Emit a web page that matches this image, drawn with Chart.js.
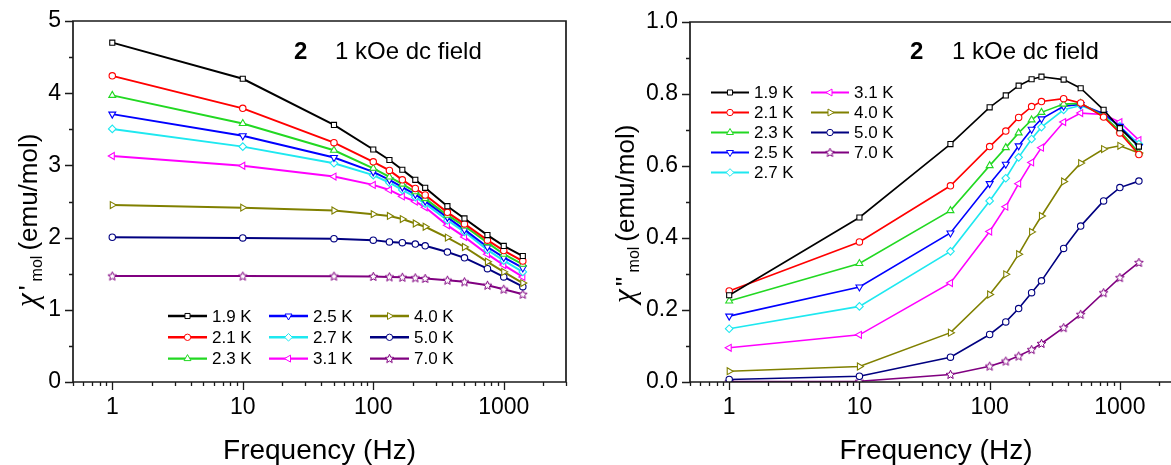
<!DOCTYPE html>
<html>
<head>
<meta charset="utf-8">
<script src="https://cdn.jsdelivr.net/npm/chart.js@4.4.1/dist/chart.umd.min.js"></script>
<style>
  body { margin:0; width:1171px; height:465px; overflow:hidden; position:relative; background:#fff; }
  #c1 { position:absolute; left:0; top:0; }
  #c2 { position:absolute; left:580px; top:0; }
</style>
</head>
<body>
<canvas id="c1" width="580" height="465"></canvas>
<canvas id="c2" width="620" height="465"></canvas>
<script>
// frequencies (Hz)
var freq = [1, 10, 50, 100, 133, 167, 210, 250, 370, 500, 750, 1000, 1400];
var temps = ['1.9 K', '2.1 K', '2.3 K', '2.5 K', '2.7 K', '3.1 K', '4.0 K', '5.0 K', '7.0 K'];

// chi' (emu/mol)
var re19 = [4.70, 4.20, 3.56, 3.22, 3.075, 2.94, 2.80, 2.69, 2.435, 2.265, 2.035, 1.885, 1.745];
var re21 = [4.24, 3.79, 3.315, 3.05, 2.93, 2.80, 2.68, 2.59, 2.35, 2.19, 1.965, 1.82, 1.675];
var re23 = [3.97, 3.58, 3.21, 2.96, 2.84, 2.74, 2.635, 2.54, 2.31, 2.16, 1.93, 1.77, 1.63];
var re25 = [3.71, 3.41, 3.11, 2.91, 2.80, 2.70, 2.60, 2.505, 2.28, 2.11, 1.87, 1.725, 1.58];
var re27 = [3.505, 3.26, 3.03, 2.865, 2.76, 2.66, 2.56, 2.47, 2.24, 2.08, 1.83, 1.68, 1.525];
var re31 = [3.13, 2.995, 2.845, 2.73, 2.66, 2.57, 2.50, 2.42, 2.17, 2.01, 1.77, 1.62, 1.455];
var re40 = [2.45, 2.415, 2.375, 2.325, 2.30, 2.257, 2.195, 2.15, 2.00, 1.87, 1.665, 1.525, 1.37];
var re50 = [2.005, 1.995, 1.985, 1.965, 1.94, 1.93, 1.91, 1.886, 1.80, 1.72, 1.57, 1.455, 1.32];
var re70 = [1.468, 1.467, 1.466, 1.462, 1.456, 1.45, 1.443, 1.434, 1.41, 1.387, 1.34, 1.285, 1.215];

// chi'' (emu/mol)
var im19 = [0.241, 0.457, 0.661, 0.763, 0.796, 0.823, 0.841, 0.848, 0.840, 0.816, 0.756, 0.705, 0.654];
var im21 = [0.253, 0.389, 0.545, 0.654, 0.697, 0.735, 0.765, 0.779, 0.787, 0.775, 0.736, 0.692, 0.632];
var im23 = [0.225, 0.329, 0.476, 0.601, 0.651, 0.692, 0.728, 0.749, 0.772, 0.774, 0.739, 0.698, 0.637];
var im25 = [0.183, 0.264, 0.414, 0.551, 0.605, 0.656, 0.702, 0.731, 0.766, 0.771, 0.745, 0.71, 0.654];
var im27 = [0.148, 0.21, 0.363, 0.503, 0.566, 0.624, 0.675, 0.708, 0.756, 0.768, 0.743, 0.71, 0.661];
var im31 = [0.095, 0.131, 0.275, 0.418, 0.487, 0.551, 0.61, 0.651, 0.722, 0.747, 0.743, 0.722, 0.672];
var im40 = [0.030, 0.043, 0.137, 0.243, 0.299, 0.355, 0.417, 0.461, 0.557, 0.608, 0.647, 0.656, 0.636];
var im50 = [0.007, 0.016, 0.069, 0.132, 0.167, 0.204, 0.248, 0.281, 0.371, 0.433, 0.503, 0.540, 0.558];
var im70 = [0.001, 0.002, 0.021, 0.044, 0.058, 0.072, 0.090, 0.107, 0.151, 0.188, 0.248, 0.290, 0.332];

var SANS = '"Liberation Sans", Arial, sans-serif';
Chart.defaults.font.family = SANS;
Chart.defaults.color = '#000';

function starImg(color) {
  var c = document.createElement('canvas');
  c.width = 11; c.height = 11;
  var g = c.getContext('2d');
  g.strokeStyle = color; g.lineWidth = 1; g.fillStyle = '#fff';
  g.beginPath();
  for (var i = 0; i < 10; i++) {
    var r = i % 2 ? 2.1 : 4.6;
    var a = -Math.PI / 2 + i * Math.PI / 5;
    g.lineTo(5.5 + r * Math.cos(a), 5.8 + r * Math.sin(a));
  }
  g.closePath(); g.fill(); g.stroke();
  return c;
}
var purpleStar = starImg('#800080');

// marker / colour per temperature
var looks = [
  {color: '#000000', shape: 'rect', rot: 0, r: 3.6},
  {color: '#ff0000', shape: 'circle', rot: 0, r: 3.2},
  {color: '#22d822', shape: 'triangle', rot: 0, r: 4},
  {color: '#0000ff', shape: 'triangle', rot: 180, r: 4},
  {color: '#1ee8f0', shape: 'rectRot', rot: 0, r: 3.8},
  {color: '#ff00ff', shape: 'triangle', rot: -90, r: 4},
  {color: '#808000', shape: 'triangle', rot: 90, r: 4},
  {color: '#000080', shape: 'circle', rot: 0, r: 3.2},
  {color: '#800080', shape: purpleStar, rot: 0, r: 4}
];

function makeSets(series, lw) {
  return series.map(function (vals, i) {
    var lk = looks[i];
    return {
      label: temps[i],
      data: freq.map(function (f, k) { return {x: f, y: vals[k]}; }),
      borderColor: lk.color,
      backgroundColor: lk.color,
      borderWidth: lw,
      pointStyle: lk.shape,
      pointRotation: lk.rot,
      pointRadius: lk.r,
      pointBorderWidth: 1.1,
      pointBackgroundColor: '#fff',
      pointBorderColor: lk.color,
      tension: 0
    };
  });
}

function logTicks(scale) {
  var t = [];
  [0.1, 1, 10, 100, 1000].forEach(function (d) {
    for (var j = 1; j <= 9; j++) {
      var v = +(j * d).toPrecision(3);
      if (v >= scale.min - 1e-9 && v <= scale.max + 1e-9) t.push({value: v});
    }
  });
  scale.ticks = t;
}
function isDecade(v) { var l = Math.log10(v); return Math.abs(l - Math.round(l)) < 1e-6; }

// frame box + tick marks
var frame = {
  id: 'frame',
  afterDraw: function (chart, args, o) {
    var ctx = chart.ctx, a = chart.chartArea, x = chart.scales.x, y = chart.scales.y;
    ctx.save();
    ctx.strokeStyle = '#1a1a1a';
    ctx.lineWidth = 1.7;
    ctx.beginPath();
    ctx.moveTo(a.left, a.top); ctx.lineTo(a.right, a.top);
    ctx.lineTo(a.right, a.bottom); ctx.lineTo(a.left, a.bottom); ctx.closePath();
    ctx.stroke();
    ctx.lineWidth = 1.3;
    ctx.beginPath();
    x.ticks.forEach(function (t) {
      var px = Math.round(x.getPixelForValue(t.value)) + 0.5;
      ctx.moveTo(px, a.bottom); ctx.lineTo(px, a.bottom + (isDecade(t.value) ? 8 : 4));
    });
    y.ticks.forEach(function (t) {
      var py = Math.round(y.getPixelForValue(t.value)) + 0.5;
      ctx.moveTo(a.left, py); ctx.lineTo(a.left - (o.isMajor(t.value) ? 8 : 4), py);
    });
    ctx.stroke();
    ctx.restore();
  }
};

// column legend drawn inside the plot
var colLegend = {
  id: 'colLegend',
  afterDatasetsDraw: function (chart, args, o) {
    var ctx = chart.ctx;
    ctx.save();
    ctx.font = '17px ' + SANS;
    ctx.textBaseline = 'middle';
    o.columns.forEach(function (col, ci) {
      col.forEach(function (idx, ri) {
        var ds = chart.data.datasets[idx];
        var st = (o.override && o.override[idx]) ? chart.data.datasets[o.override[idx]] : ds;
        var x0 = o.x[ci], yy = o.y + ri * o.dy;
        ctx.strokeStyle = st.borderColor;
        ctx.lineWidth = st.borderWidth + 0.4;
        ctx.beginPath(); ctx.moveTo(x0, yy); ctx.lineTo(x0 + o.len, yy); ctx.stroke();
        ctx.lineWidth = 1;
        ctx.fillStyle = st.pointBackgroundColor;
        Chart.helpers.drawPoint(ctx, {pointStyle: st.pointStyle, rotation: st.pointRotation, radius: st.pointRadius, borderWidth: 1}, x0 + o.len / 2, yy);
        ctx.fillStyle = '#000';
        ctx.fillText(ds.label, x0 + o.len + o.gap, yy + 1);
      });
    });
    ctx.restore();
  }
};

// "2   1 kOe dc field" note and rotated y title with sub/superscripts
var labels = {
  id: 'labels',
  afterDraw: function (chart, args, o) {
    var ctx = chart.ctx;
    ctx.save();
    ctx.fillStyle = '#000';
    ctx.textBaseline = 'middle';
    ctx.font = 'bold 24px ' + SANS;
    ctx.fillText('2', o.noteX1, o.noteY);
    ctx.font = '24px ' + SANS;
    ctx.fillText('1 kOe dc field', o.noteX2, o.noteY);

    ctx.translate(o.titleX, o.titleY);
    ctx.rotate(-Math.PI / 2);
    ctx.textBaseline = 'alphabetic';
    var pos = 0;
    ctx.font = 'italic 31px "Liberation Serif", serif';
    ctx.fillText('\u03C7', pos, 0);
    pos += ctx.measureText('\u03C7').width + 3;
    ctx.font = '26px ' + SANS;
    ctx.fillText(o.primes, pos, 0);
    pos += ctx.measureText(o.primes).width + 4;
    ctx.font = '16px ' + SANS;
    ctx.fillText('mol', pos, 5);
    pos += ctx.measureText('mol').width + 5;
    ctx.font = '26px ' + SANS;
    ctx.fillText('(emu/mol)', pos, 0);
    ctx.restore();
  }
};

function xScale() {
  return {
    type: 'logarithmic', min: 0.5, max: 3000,
    afterBuildTicks: logTicks,
    afterFit: function (s) { s.height = 83; },
    grid: {display: true, drawOnChartArea: false, drawTicks: true, tickLength: 8, color: 'rgba(0,0,0,0)'},
    border: {display: false},
    ticks: {
      autoSkip: false, maxRotation: 0, padding: 4,
      font: {size: 23},
      callback: function (v) { return isDecade(v) ? String(v) : ''; }
    },
    title: {display: true, text: 'Frequency (Hz)', font: {size: 28}, padding: {top: 0, bottom: -3}}
  };
}

new Chart(document.getElementById('c1'), {
  type: 'line',
  data: {datasets: makeSets([re19, re21, re23, re25, re27, re31, re40, re50, re70], 2)},
  options: {
    responsive: false, animation: false,
    layout: {padding: {top: 21, right: 14, left: 0, bottom: 0}},
    scales: {
      x: xScale(),
      y: {
        min: 0, max: 5,
        afterFit: function (s) { s.width = 73; },
        afterBuildTicks: function (s) {
          var t = []; for (var i = 0; i <= 10; i++) t.push({value: i / 2}); s.ticks = t;
        },
        grid: {display: true, drawOnChartArea: false, drawTicks: true, tickLength: 8, color: 'rgba(0,0,0,0)'},
        border: {display: false},
        ticks: {
          padding: 4, font: {size: 23},
          callback: function (v) { return Number.isInteger(v) ? String(v) : ''; }
        }
      }
    },
    plugins: {
      legend: {display: false},
      tooltip: {enabled: false},
      frame: {isMajor: function (v) { return Number.isInteger(v); }},
      colLegend: {columns: [[0, 1, 2], [3, 4, 5], [6, 7, 8]], x: [168, 269, 370], y: 316, dy: 21.3, len: 39, gap: 5},
      labels: {noteX1: 294, noteX2: 335, noteY: 52, titleX: 37, titleY: 307, primes: '\''}
    }
  },
  plugins: [frame, colLegend, labels]
});

new Chart(document.getElementById('c2'), {
  type: 'line',
  data: {datasets: makeSets([im19, im21, im23, im25, im27, im31, im40, im50, im70], 1.6)},
  options: {
    responsive: false, animation: false,
    layout: {padding: {top: 22, right: 18, left: 0, bottom: 0}},
    scales: {
      x: xScale(),
      y: {
        min: 0, max: 1,
        afterFit: function (s) { s.width = 110; },
        afterBuildTicks: function (s) {
          var t = []; for (var i = 0; i <= 10; i++) t.push({value: i / 10}); s.ticks = t;
        },
        grid: {display: true, drawOnChartArea: false, drawTicks: true, tickLength: 8, color: 'rgba(0,0,0,0)'},
        border: {display: false},
        ticks: {
          padding: 4, font: {size: 23},
          callback: function (v) { return Math.round(v * 10) % 2 === 0 ? v.toFixed(1) : ''; }
        }
      }
    },
    plugins: {
      legend: {display: false},
      tooltip: {enabled: false},
      frame: {isMajor: function (v) { return Math.round(v * 10) % 2 === 0; }},
      colLegend: {columns: [[0, 1, 2, 3, 4], [5, 6, 7, 8]], x: [131, 231], y: 92.5, dy: 20, len: 38, gap: 5, override: {7: 8}},
      labels: {noteX1: 330, noteX2: 372, noteY: 52, titleX: 54, titleY: 303, primes: '\'\''}
    }
  },
  plugins: [frame, colLegend, labels]
});
</script>
</body>
</html>
